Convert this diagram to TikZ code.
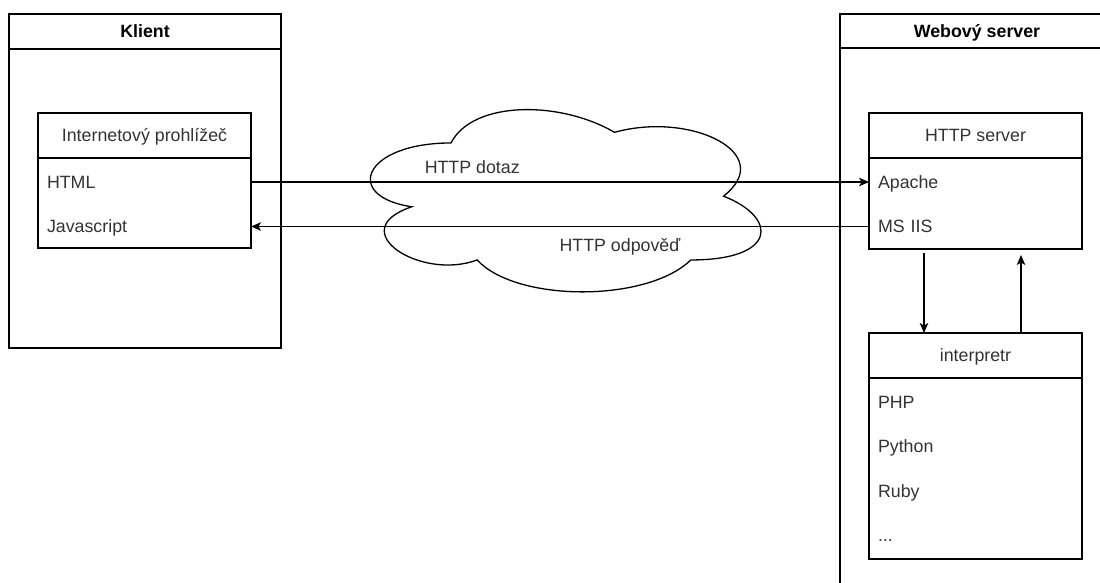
\documentclass[tikz,border=0pt]{standalone}
\usepackage{fontspec}
\setmainfont{Liberation Sans}
\usetikzlibrary{arrows.meta}
\definecolor{txt}{HTML}{333333}
\begin{document}
\begin{tikzpicture}[x=1pt,y=1pt,
  every node/.style={font=\fontsize{17.8}{21}\selectfont, text height=12.7pt, text depth=0pt, inner sep=0pt, outer sep=0pt},
  box/.style={draw, line width=1.3pt, fill=white, rectangle, anchor=north west},
  hdr/.style={draw, line width=1.3pt, rectangle, anchor=north west},
  ttl/.style={font=\fontsize{17.8}{21}\selectfont\bfseries},
  item/.style={anchor=west, text width=195pt, inner xsep=9pt, align=left, text=txt},
  arr/.style={-{Stealth[length=10pt,width=8.5pt,inset=2.5pt]}, line width=1.3pt},
  lbl/.style={text=txt}
]
\useasboundingbox (0,0) rectangle (1100,-583);
\clip (0,0) rectangle (1100,-583);

% Klient
\node[box, minimum width=272pt, minimum height=334pt] (klient) at (9,-14) {};
\node[hdr, ttl, minimum width=272pt, minimum height=35pt] (klientT) at (klient.north west) {Klient};

% Browser
\node[box, minimum width=213pt, minimum height=135pt] (browser) at (38,-113) {};
\node[hdr, minimum width=213pt, minimum height=45pt, text=txt] (browserT) at (browser.north west) {Internetový prohlížeč};
\node[item] (html) at (38,-182) {HTML};
\node[item] (js) at (38,-226.5) {Javascript};

% Webový server
\node[box, minimum width=274pt, minimum height=600pt] (server) at (840,-14) {};
\node[hdr, ttl, minimum width=274pt, minimum height=34pt] (serverT) at (server.north west) {Webový server};

% HTTP server
\node[box, minimum width=213pt, minimum height=136pt] (httpsrv) at (869,-113) {};
\node[hdr, minimum width=213pt, minimum height=45pt, text=txt] (httpT) at (httpsrv.north west) {HTTP server};
\node[item] (apache) at (869,-182) {Apache};
\node[item] (msiis) at (869,-226.5) {MS IIS};

% interpretr
\node[box, minimum width=213pt, minimum height=226pt] (interp) at (869,-333) {};
\node[hdr, minimum width=213pt, minimum height=45pt, text=txt] (interpT) at (interp.north west) {interpretr};
\node[item] (php) at (869,-402) {PHP};
\node[item] (python) at (869,-446) {Python};
\node[item] (ruby) at (869,-491) {Ruby};
\node[item] (more) at (869,-535) {...};

% cloud
\begin{scope}[shift={(342pt,-89.8pt)}, x=436pt, y=-212.7pt]
\draw[line width=1.3pt, fill=white] (0.25,0.25) .. controls (0.05,0.25) and (0,0.5) .. (0.16,0.55)
  .. controls (0,0.66) and (0.18,0.9) .. (0.31,0.8)
  .. controls (0.4,1) and (0.7,1) .. (0.8,0.8)
  .. controls (1,0.8) and (1,0.6) .. (0.875,0.5)
  .. controls (1,0.3) and (0.8,0.1) .. (0.625,0.2)
  .. controls (0.5,0.05) and (0.3,0.05) .. (0.25,0.25) -- cycle;
\end{scope}

% connectors
\draw[arr] (html.east) -- node[lbl, pos=0.358, above=8.6pt] {HTTP dotaz} (apache.west);
\draw[arr] (msiis.west) -- node[lbl, pos=0.403, below=12.6pt] {HTTP odpověď} (js.east);
\draw[arr] ([xshift=-51.5pt,yshift=-4pt]httpsrv.south) -- ([xshift=-51.5pt]interp.north);
\draw[arr] ([xshift=45.5pt]interp.north) -- ([xshift=45.5pt,yshift=-6pt]httpsrv.south);
\end{tikzpicture}
\end{document}
